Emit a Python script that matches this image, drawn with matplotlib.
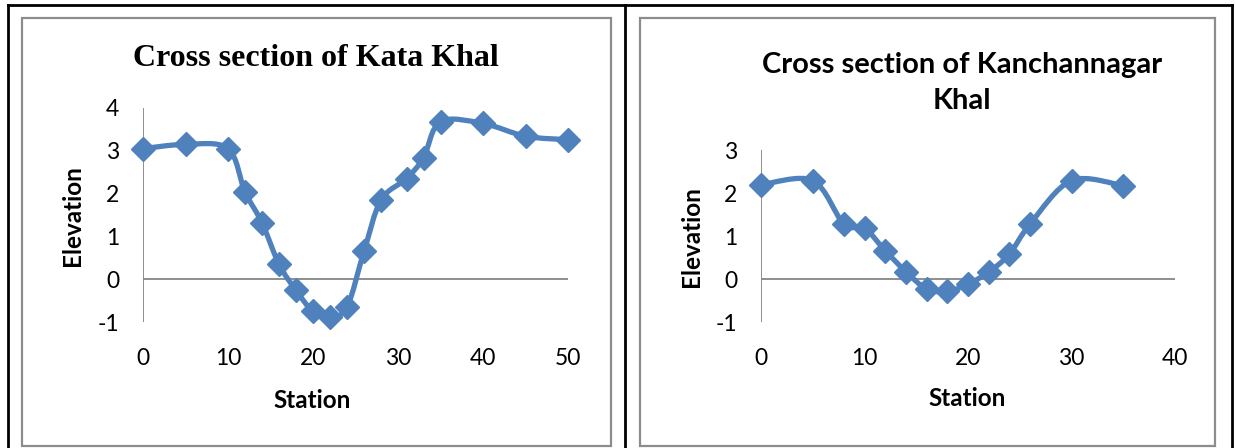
import matplotlib.pyplot as plt
import numpy as np
from matplotlib.path import Path
from matplotlib.patches import PathPatch, Rectangle
from matplotlib.lines import Line2D

# Kata Khal cross section
kata_station = [0, 5, 10, 12, 14, 16, 18, 20, 22, 24, 26, 28, 31, 33, 35, 40, 45, 50]
kata_elev = [3.05, 3.15, 3.05, 2.04, 1.32, 0.35, -0.26, -0.75, -0.88, -0.65,
             0.65, 1.85, 2.35, 2.84, 3.68, 3.64, 3.34, 3.26]

# Kanchannagar Khal cross section
kanch_station = [0, 5, 8, 10, 12, 14, 16, 18, 20, 22, 24, 26, 30, 35]
kanch_elev = [2.19, 2.29, 1.28, 1.18, 0.66, 0.17, -0.23, -0.29, -0.12, 0.16,
              0.58, 1.28, 2.29, 2.17]

kata_title = "Cross section of Kata Khal"
kanch_title = "Cross section of Kanchannagar\nKhal"
xlabel = "Station"
ylabel = "Elevation"

BLUE = "#4F81BD"
AXIS = "#868686"
FRAME = "#8C8C8C"
W, H = 1236, 448

plt.rcParams['axes.unicode_minus'] = False


def smooth_path(x, y):
    """Bezier path through the points, like an Excel smoothed line."""
    pts = np.column_stack([x, y]).astype(float)
    ext = np.vstack([pts[0], pts, pts[-1]])
    verts = [pts[0]]
    codes = [Path.MOVETO]
    for i in range(1, len(ext) - 2):
        p0, p1, p2, p3 = ext[i - 1], ext[i], ext[i + 1], ext[i + 2]
        verts += [p1 + (p2 - p0) / 6, p2 - (p3 - p1) / 6, p2]
        codes += [Path.CURVE4] * 3
    return Path(verts, codes)


def fx(px):
    return px / W


def fy(py):
    return 1 - py / H


def draw_chart(ax, x, y, xlim, ylim, xticks, yticks):
    ax.set_xlim(xlim)
    ax.set_ylim(ylim)
    for s in ax.spines.values():
        s.set_visible(False)
    ax.patch.set_visible(False)
    ax.axvline(0, color=AXIS, lw=1.3, zorder=1)
    ax.axhline(0, color=AXIS, lw=1.3, zorder=1)
    ax.add_patch(PathPatch(smooth_path(x, y), fill=False, edgecolor=BLUE,
                           lw=3.8, capstyle='round', joinstyle='round',
                           clip_on=False, zorder=2))
    ax.plot(x, y, 'D', ms=12, color=BLUE, clip_on=False, zorder=3)
    ax.set_xticks(xticks)
    ax.set_yticks(yticks)
    ax.tick_params(length=0, labelsize=16.5, colors='black')
    ax.tick_params(axis='x', pad=19)
    ax.tick_params(axis='y', pad=17)
    for lab in ax.get_xticklabels() + ax.get_yticklabels():
        lab.set_fontfamily('Lato')


fig = plt.figure(figsize=(W / 100, H / 100), dpi=100)

ax1 = fig.add_axes([fx(143), fy(322), fx(568) - fx(143), fy(108) - fy(322)])
draw_chart(ax1, kata_station, kata_elev, (0, 50), (-1, 4),
           [0, 10, 20, 30, 40, 50], [-1, 0, 1, 2, 3, 4])

ax2 = fig.add_axes([fx(761), fy(322), fx(1175) - fx(761), fy(150) - fy(322)])
draw_chart(ax2, kanch_station, kanch_elev, (0, 40), (-1, 3),
           [0, 10, 20, 30, 40], [-1, 0, 1, 2, 3])

# titles and axis labels
fig.text(fx(316), fy(59), kata_title, ha='center', va='center',
         fontsize=23, fontweight='bold', family='Liberation Serif')
fig.text(fx(962), fy(83), kanch_title, ha='center', va='center',
         fontsize=21, fontweight='bold', family='Lato', linespacing=1.45)
for xl, yl in [(312, 400), (967, 398)]:
    fig.text(fx(xl), fy(yl), xlabel, ha='center', va='center',
             fontsize=17.5, fontweight='bold', family='Lato')
for xl, yl in [(73, 216), (691, 237)]:
    fig.text(fx(xl), fy(yl), ylabel, ha='center', va='center', rotation=90,
             fontsize=17.5, fontweight='bold', family='Lato')

# chart frames
for x0, x1 in [(22, 611), (640, 1215)]:
    fig.add_artist(Rectangle((fx(x0), fy(446)), fx(x1) - fx(x0), fy(18) - fy(446),
                             transform=fig.transFigure, fill=False,
                             edgecolor=FRAME, lw=1.6))

# table borders
fig.add_artist(Line2D([fx(8), fx(1232)], [fy(5.5), fy(5.5)],
                      transform=fig.transFigure, color='black', lw=2))
for xv in [8, 625, 1232]:
    fig.add_artist(Line2D([fx(xv), fx(xv)], [fy(5.5), fy(448)],
                          transform=fig.transFigure, color='black', lw=2))

fig.savefig("out.png", dpi=100)
